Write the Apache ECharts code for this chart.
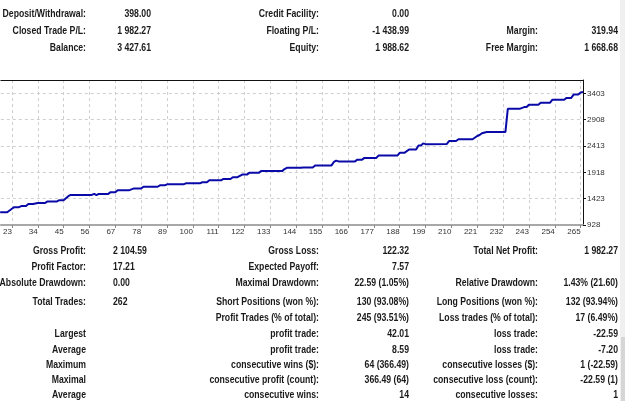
<!DOCTYPE html>
<html>
<head>
<meta charset="utf-8">
<script src="https://cdn.jsdelivr.net/npm/echarts@6/dist/echarts.min.js"></script>
<style>
  html, body { margin: 0; padding: 0; background: #fff; }
  #main { width: 625px; height: 401px; }
</style>
</head>
<body>
<div id="main"></div>
<script>
// balance curve at its change points
const trades = [18, 21, 23, 24, 26, 27, 29, 30, 32, 34, 37, 38, 42, 43, 45, 47, 48, 57, 58, 59, 60, 64, 65, 67, 68, 73, 75, 78, 79, 85, 86, 88, 89, 96, 97, 103, 104, 106, 107, 112, 113, 116, 117, 119, 121, 123, 124, 128, 129, 138, 139, 140, 146, 147, 151, 152, 159, 160, 161, 162, 169, 170, 172, 173, 178, 179, 187, 188, 190, 192, 195, 196, 197, 198, 199, 208, 209, 212, 213, 219, 221, 222, 223, 225, 233, 234, 239, 241, 242, 243, 247, 248, 252, 253, 258, 259, 261, 262, 264, 265, 266];
const balance = [1169, 1169, 1234, 1264, 1264, 1283, 1283, 1322, 1322, 1341, 1341, 1368, 1368, 1392, 1392, 1469, 1494, 1494, 1513, 1488, 1513, 1513, 1545, 1545, 1583, 1583, 1616, 1616, 1647, 1647, 1673, 1673, 1692, 1692, 1712, 1712, 1731, 1731, 1769, 1769, 1794, 1794, 1826, 1826, 1876, 1876, 1908, 1908, 1941, 1941, 1979, 2004, 2004, 2010, 2010, 2048, 2048, 2113, 2138, 2124, 2124, 2157, 2157, 2189, 2189, 2233, 2233, 2285, 2285, 2348, 2348, 2424, 2424, 2462, 2448, 2450, 2506, 2506, 2539, 2539, 2602, 2620, 2654, 2678, 2678, 3112, 3112, 3145, 3145, 3189, 3189, 3227, 3227, 3284, 3284, 3317, 3317, 3380, 3380, 3418, 3428];

const tradeTicks = [23, 34, 45, 56, 67, 78, 89, 100, 111, 122, 133, 144, 155, 166, 177, 188, 199, 210, 221, 232, 243, 254, 265];
const balanceTicks = [928, 1423, 1918, 2413, 2908, 3403];

// account summary (top block)
const accountLabelsA = ['Deposit/Withdrawal:', 'Closed Trade P/L:', 'Balance:'];
const accountValuesA = ['398.00', '1 982.27', '3 427.61'];
const accountLabelsB = ['Credit Facility:', 'Floating P/L:', 'Equity:'];
const accountValuesB = ['0.00', '-1 438.99', '1 988.62'];
const accountLabelsC = ['', 'Margin:', 'Free Margin:'];
const accountValuesC = ['', '319.94', '1 668.68'];

// report stats (bottom block), one row = [label, value, label, value, label, value]
const statRows = [
    ['Gross Profit:', '2 104.59', 'Gross Loss:', '122.32', 'Total Net Profit:', '1 982.27'],
    ['Profit Factor:', '17.21', 'Expected Payoff:', '7.57', '', ''],
    ['Absolute Drawdown:', '0.00', 'Maximal Drawdown:', '22.59 (1.05%)', 'Relative Drawdown:', '1.43% (21.60)'],
    ['Total Trades:', '262', 'Short Positions (won %):', '130 (93.08%)', 'Long Positions (won %):', '132 (93.94%)'],
    ['', '', 'Profit Trades (% of total):', '245 (93.51%)', 'Loss trades (% of total):', '17 (6.49%)'],
    ['Largest', '', 'profit trade:', '42.01', 'loss trade:', '-22.59'],
    ['Average', '', 'profit trade:', '8.59', 'loss trade:', '-7.20'],
    ['Maximum', '', 'consecutive wins ($):', '64 (366.49)', 'consecutive losses ($):', '1 (-22.59)'],
    ['Maximal', '', 'consecutive profit (count):', '366.49 (64)', 'consecutive loss (count):', '-22.59 (1)'],
    ['Average', '', 'consecutive wins:', '14', 'consecutive losses:', '1']
];

const FONT = 'bold 11px "Liberation Sans", Arial, sans-serif';
const TXT = '#1a1a1a';
const SQUEEZE = 0.79; // report font is narrower than Liberation Sans

function txt(text, x, y, align) {
    return {
        type: 'text',
        x: x,
        y: y,
        scaleX: SQUEEZE,
        silent: true,
        style: {
            text: text,
            font: FONT,
            fill: TXT,
            align: align,
            verticalAlign: 'middle'
        }
    };
}

const graphics = [];
const topRows = [14, 31, 48];
topRows.forEach((y, i) => {
    graphics.push(txt(accountLabelsA[i], 86, y, 'right'));
    graphics.push(txt(accountValuesA[i], 151, y, 'right'));
    graphics.push(txt(accountLabelsB[i], 319, y, 'right'));
    graphics.push(txt(accountValuesB[i], 409, y, 'right'));
    if (accountLabelsC[i]) {
        graphics.push(txt(accountLabelsC[i], 538, y, 'right'));
        graphics.push(txt(accountValuesC[i], 618, y, 'right'));
    }
});

const statY = [251, 267, 283, 302, 318, 334, 350, 365, 380, 395];
statRows.forEach((r, i) => {
    const y = statY[i];
    if (r[0]) graphics.push(txt(r[0], 86, y, 'right'));
    if (r[1]) graphics.push(txt(r[1], 113, y, 'left'));
    if (r[2]) graphics.push(txt(r[2], 319, y, 'right'));
    if (r[3]) graphics.push(txt(r[3], 409, y, 'right'));
    if (r[4]) graphics.push(txt(r[4], 538, y, 'right'));
    if (r[5]) graphics.push(txt(r[5], 618, y, 'right'));
});

// light strip on the right edge
graphics.push({ type: 'rect', silent: true, shape: { x: 620, y: 0, width: 5, height: 401 }, style: { fill: '#f0f0f0' } });
graphics.push({ type: 'rect', silent: true, shape: { x: 621, y: 337, width: 4, height: 64 }, style: { fill: '#d6d6d6' } });

const chart = echarts.init(document.getElementById('main'));

const X_MIN = 18.3, X_MAX = 266;

const option = {
    backgroundColor: '#ffffff',
    animation: false,
    grid: {
        left: 0,
        right: 42,
        top: 80,
        bottom: 176
    },
    xAxis: [{
        type: 'value',
        min: X_MIN,
        max: X_MAX,
        axisLine: { show: true, lineStyle: { color: '#a8a8a8', width: 2 } },
        axisTick: { show: true, customValues: tradeTicks, length: 3, lineStyle: { color: '#888' } },
        axisLabel: {
            customValues: tradeTicks,
            formatter: v => String(v),
            align: 'right',
            margin: 3,
            fontSize: 8,
            fontFamily: '"Liberation Sans", sans-serif',
            color: '#333'
        },
        splitLine: { show: true, lineStyle: { color: '#cfcfcf', type: [3, 3], width: 1 } }
    }, {
        // top frame line only
        type: 'value',
        position: 'top',
        min: X_MIN,
        max: X_MAX,
        axisLine: { show: true, lineStyle: { color: '#111', width: 1 } },
        axisTick: { show: false },
        axisLabel: { show: false },
        splitLine: { show: false }
    }],
    yAxis: {
        type: 'value',
        position: 'right',
        min: 928,
        max: 3654,
        axisLine: { show: true, lineStyle: { color: '#111', width: 1 } },
        axisTick: { show: true, customValues: balanceTicks, length: 3, lineStyle: { color: '#111' } },
        axisLabel: {
            customValues: balanceTicks,
            formatter: v => String(v),
            margin: 4,
            fontSize: 8,
            fontFamily: '"Liberation Sans", sans-serif',
            color: '#333'
        },
        splitLine: { show: true, lineStyle: { color: '#cfcfcf', type: [3, 3], width: 1 } }
    },
    series: [{
        type: 'line',
        xAxisIndex: 0,
        showSymbol: false,
        lineStyle: { color: '#0a0aa8', width: 2 },
        data: trades.map((t, i) => [t, balance[i]])
    }],
    graphic: graphics
};

chart.setOption(option);
</script>
</body>
</html>
